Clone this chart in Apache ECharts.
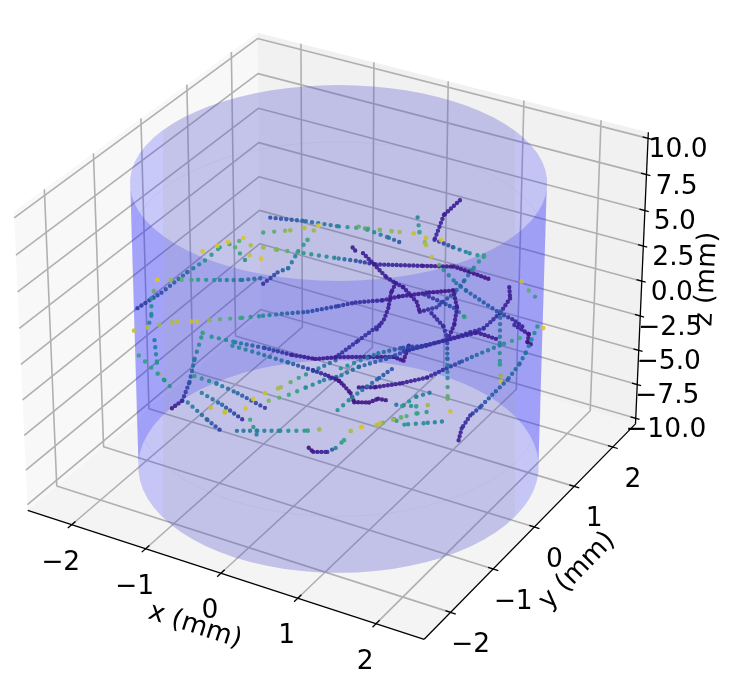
<!DOCTYPE html>
<html>
<head>
<meta charset="utf-8">
<script src="https://cdn.jsdelivr.net/npm/echarts@6/dist/echarts.min.js"></script>
<style>html,body{margin:0;padding:0;background:#fff}#main{width:747px;height:690px}</style>
</head>
<body>
<div id="main"></div>
<script>
// tick values (mm)
var xTicks = [-2, -1, 0, 1, 2];
var yTicks = [-2, -1, 0, 1, 2];
var zTicks = [-10, -7.5, -5, -2.5, 0, 2.5, 5, 7.5, 10];
var xTickLabels = ['\u22122', '\u22121', '0', '1', '2'];
var yTickLabels = ['\u22122', '\u22121', '0', '1', '2'];
var zTickLabels = ['\u221210.0', '\u22127.5', '\u22125.0', '\u22122.5', '0.0', '2.5', '5.0', '7.5', '10.0'];

// axis limits and cylinder size (mm)
var xyLimit = 2.604;
var zLimit = 10.417;
var cylRadius = 2.34;
var cylHalfHeight = 10;

// tracks: x, y, z (mm), speed (0..1)
var tracks = [
  [[-2.00,-1.06,0.8,.15],[-1.81,-.84,1.6,.2],[-1.61,-.59,2.7,.33],[-1.47,-.43,3.3,.5],[-1.36,-.28,4.0,.6],[-1.16,-.12,4.4,.7]],
  [[-.94,.15,5.6,.2],[-.58,.34,5.4,.3],[-.24,.51,5.1,.4],[.06,.66,5.0,.7],[.38,.83,4.8,.8],[.62,.95,4.7,.95]],
  [[-.04,.62,5.1,.7],[.13,.68,4.8,.45],[.29,.74,4.5,.35],[.45,.79,4.2,.2]],
  [[-.97,.04,4.8,.62],[-.71,.21,4.9,.78],[-.39,.43,5.2,.98]],
  [[-.82,-.22,2.1,.12],[-.71,-.08,2.7,.2],[-.62,.01,2.9,.35],[-.57,.15,3.8,.45],[-.51,.26,4.4,.6],[-.47,.37,5.0,.85]],
  [[-1.52,-.40,3.8,.95],[-1.29,-.21,4.3,.95],[-1.15,-.10,4.5,.95]],
  [[-1.21,-.19,4.0,.7],[-1.14,-.20,3.7,.6],[-1.05,-.20,3.2,.45]],
  [[-1.04,-.15,3.6,.9],[-.92,-.10,3.4,.95],[-.77,-.08,2.9,.95]],
  [[-1.06,-.09,4.1,.85],[-.78,.03,3.9,.75],[-.51,.17,3.7,.55],[-.15,.35,3.4,.4],[.03,.43,3.3,.2],[.24,.53,3.1,.1],[.71,.80,3.0,.05],[1.02,.96,3.0,.02],[1.20,1.03,2.7,.02],[1.42,1.11,2.3,.01]],
  [[-1.88,-.81,2.3,.95],[-1.64,-.67,2.3,.7],[-1.48,-.57,2.3,.55],[-1.26,-.45,2.3,.45],[-1.04,-.32,2.3,.35],[-.84,-.19,2.4,.3]],
  [[-1.97,-1.19,-.4,.9],[-1.74,-1.01,-.1,.8],[-1.56,-.90,.1,.85],[-1.37,-.79,.1,.9],[-1.15,-.64,.2,.7],[-.93,-.51,.3,.6],[-.73,-.38,.4,.45],[-.55,-.26,.5,.3],[-.30,-.10,.6,.2],[-.01,.11,.9,.15],[.15,.22,1.1,.12],[.41,.39,1.2,.08],[.56,.50,1.4,.04],[.85,.70,1.6,.03],[1.08,.85,1.7,.02]],
  [[-1.88,-.81,2.3,.95],[-1.89,-.93,1.3,.5],[-1.84,-1.02,.4,.45],[-1.84,-1.07,0,.4]],
  [[.89,1.33,6.5,.05],[.77,1.17,5.7,.06],[.75,.99,4.4,.1],[.96,1.06,4.0,.3],[1.14,1.12,3.7,.45],[1.29,1.19,3.5,.55],[1.38,1.22,3.3,.9]],
  [[.52,1.00,5.6,.4],[.58,.94,4.8,.6],[.68,.92,4.1,.85],[.77,.89,3.5,.95]],
  [[.77,.89,3.5,.9],[.93,.89,2.8,.5],[1.09,.90,2.1,.35],[1.21,.92,1.7,.28],[1.61,1.0,.5,.2],[1.75,1.04,.2,.1],[1.90,1.07,-.3,.05]],
  [[.66,.95,4.5,.9],[.89,1.07,4.3,.95]],
  [[1.29,1.19,3.6,.6],[1.21,1.05,2.8,.4],[1.16,.95,2.2,.3],[1.10,.85,1.6,.25],[.96,.67,.8,.15],[.81,.54,.6,.05]],
  [[-.04,.48,4.0,.05],[0,.48,3.8,.05]],
  [[.08,.51,3.7,.05],[.22,.52,3.1,.05],[.38,.53,2.4,.06],[.49,.55,2.1,.05],[.47,.48,1.6,.04],[.49,.38,.8,.05],[.48,.30,.2,.06],[.43,.20,-.4,.08]],
  [[.49,.55,2.1,.05],[.58,.57,1.9,.05],[.75,.58,1.1,.04],[.80,.55,.7,.03]],
  [[.81,.66,1.5,.1],[1.14,.76,.8,.2],[1.27,.78,.3,.55],[1.36,.79,.1,.85]],
  [[1.08,.85,1.7,.03],[1.17,.78,.8,.06],[1.19,.68,-.1,.05],[1.17,.58,-.8,.06]],
  [[1.63,1.18,1.9,.05],[1.67,1.13,1.3,.05],[1.61,1.0,.5,.1],[1.49,.83,-.3,.12],[1.37,.73,-.5,.12],[1.16,.56,-.9,.1],[.76,.25,-1.5,.15]],
  [[1.74,1.28,2.2,.9],[1.83,1.28,1.7,.7],[1.98,1.29,1.1,.4]],
  [[1.61,1.01,.6,.3],[1.70,.84,-1.2,.4],[1.76,.74,-2.2,.55],[1.82,.66,-3.1,.9],[1.85,.64,-3.4,.95]],
  [[1.79,1.02,-.1,.1],[1.96,1.06,-.6,.02],[1.97,1.01,-1.0,.02],[2.02,1.03,-1.2,.01]],
  [[2.08,1.18,-.3,.95],[2.11,1.09,-1.0,.95]],
  [[2.02,1.15,-.2,.5],[1.98,.95,-1.6,.35],[1.95,.85,-2.2,.3],[1.88,.71,-3.0,.28],[1.77,.55,-3.8,.25],[1.68,.42,-4.5,.2],[1.61,.32,-4.9,.12],[1.56,.21,-5.6,.08],[1.57,.11,-6.3,.05]],
  [[1.88,.99,-.8,.65],[1.70,.84,-1.2,.4],[1.50,.66,-1.7,.3],[1.35,.52,-2.1,.2],[1.24,.42,-2.4,.12],[1.07,.26,-2.9,.08],[.82,.07,-3.2,.05],[.58,-.09,-3.4,.04],[.40,-.20,-3.4,.03]],
  [[.17,-.27,-2.9,.03],[.27,-.26,-3.3,.02],[.36,-.26,-3.7,.01],[.42,-.28,-4.2,.01],[.57,-.20,-4.2,.02],[.65,-.13,-4.0,.02],[.76,-.08,-4.1,.02]],
  [[.93,.61,.5,.08],[1.09,.61,-.2,.1],[1.16,.57,-.8,.15],[1.22,.47,-1.9,.3],[1.28,.37,-2.9,.45],[1.34,.27,-4.0,.7],[1.41,.22,-4.8,.95]],
  [[.11,-.16,-1.8,.05],[.44,.03,-1.8,.05],[.68,.17,-1.8,.03],[.79,.21,-2.0,.02],[.80,.33,-1.1,.04]],
  [[.45,.25,-.1,.12],[.27,.03,-1.0,.12],[.11,-.16,-1.8,.12]],
  [[.17,-.27,-2.9,.4],[.37,-.08,-2.3,.3],[.61,.12,-1.9,.25],[.82,.29,-1.4,.15],[1.16,.56,-.9,.1],[1.44,.77,-.5,.05],[1.68,.86,-.9,.04]],
  [[.19,-.19,-2.4,.5],[.52,.10,-1.6,.35],[.75,.27,-1.3,.2],[1.0,.44,-1.2,.12]],
  [[.28,-.42,-4.6,.5],[.39,-.27,-3.9,.4],[.60,-.02,-2.9,.25],[.73,.14,-2.3,.2]],
  [[.85,-.06,-4.3,.35],[1.05,.05,-4.4,.55],[1.22,.16,-4.3,.95]],
  [[1.35,.12,-5.2,.4],[1.17,.01,-5.3,.45],[.98,-.10,-5.4,.5],[.86,-.14,-5.1,.6],[.71,-.27,-5.4,.85],[.56,-.37,-5.5,.95],[.47,-.44,-5.6,.95]],
  [[1.14,.20,-3.7,.35],[1.02,.10,-3.9,.45],[.86,-.08,-4.6,.6]],
  [[1.17,.08,-4.7,.55],[1.07,.02,-4.8,.6],[.93,-.09,-5.0,.7],[.86,-.15,-5.1,.8],[.73,-.25,-5.3,.9]],
  [[.10,-.77,-6.6,.02],[.16,-.77,-6.8,.02],[.30,-.69,-6.8,.1],[.37,-.62,-6.6,.4],[.43,-.53,-6.2,.6],[.47,-.44,-5.7,.85]],
  [[-1.74,-1.12,-.9,.35],[-1.65,-1.22,-2.1,.5],[-1.58,-1.28,-2.9,.9]],
  [[-1.37,-1.36,-4.5,.02],[-1.29,-1.26,-4.1,.1],[-1.27,-1.13,-3.1,.2],[-1.29,-.98,-1.9,.35],[-1.28,-.81,-.5,.55],[-1.25,-.74,-.1,.9]],
  [[-1.24,-1.07,-2.8,.55],[-1.0,-.98,-3.2,.4],[-.76,-.91,-3.7,.3],[-.45,-.82,-4.5,.15]],
  [[-1.12,-1.11,-3.7,.4],[-.88,-1.06,-4.3,.3],[-.64,-1.01,-5.1,.1]],
  [[-1.23,-1.24,-4.2,.4],[-.98,-1.22,-5.1,.3],[-.82,-1.19,-5.7,.15]],
  [[-1.85,-1.29,-1.7,.6],[-1.52,-1.27,-3.0,.5],[-1.40,-1.26,-3.6,.45]],
  [[-.64,-.94,-4.5,.95],[-.56,-.97,-5.1,.65],[-.44,-1.01,-6.0,.35]],
  [[-.99,-1.13,-4.5,.9],[-.83,-1.08,-4.7,.9],[-.75,-1.06,-4.9,.85]],
  [[-.66,-1.10,-5.7,.35],[-.46,-.98,-5.7,.4],[-.23,-.85,-5.7,.45],[.04,-.69,-5.7,.55],[.21,-.58,-5.6,.95]],
  [[-.59,-.85,-4.0,.95],[-.49,-.75,-3.7,.9],[-.35,-.63,-3.4,.8],[-.20,-.48,-2.9,.6],[-.03,-.32,-2.4,.4],[.14,-.15,-1.9,.3]],
  [[-.43,-.77,-4.1,.75],[-.25,-.62,-3.8,.65],[-.10,-.49,-3.4,.5],[.06,-.35,-3.0,.4],[.21,-.23,-2.8,.3]],
  [[-1.18,-.78,-.7,.5],[-.93,-.67,-1.0,.4],[-.62,-.53,-1.3,.2],[-.33,-.40,-1.7,.07],[-.09,-.29,-1.9,.03],[.14,-.15,-1.8,.05]],
  [[-.95,-.70,-1.2,.45],[-.67,-.59,-1.6,.35],[-.35,-.46,-2.1,.3],[-.08,-.36,-2.5,.15],[.09,-.30,-2.8,.05],[.23,-.26,-3.1,.02]]
];
var trackShift = [-.03, 0, -.12];

// speed colours (stops of the colour bar)
var speedStops = [
  [0, '#3f0f82'], [.07, '#3a2098'], [.15, '#2f3aa5'], [.22, '#2a55aa'], [.4, '#267f9c'], [.5, '#22938f'],
  [.65, '#3cab78'], [.8, '#a0b84a'], [.95, '#dcc428'], [1, '#e8cf1a']
];

function hexRgb(h) {
  return [parseInt(h.substr(1, 2), 16), parseInt(h.substr(3, 2), 16), parseInt(h.substr(5, 2), 16)];
}
function speedColor(c) {
  for (var i = 1; i < speedStops.length; i++) {
    if (c <= speedStops[i][0]) {
      var a = speedStops[i - 1], b = speedStops[i];
      var t = (c - a[0]) / (b[0] - a[0]);
      var ca = hexRgb(a[1]), cb = hexRgb(b[1]);
      return 'rgb(' + Math.round(ca[0] + (cb[0] - ca[0]) * t) + ',' + Math.round(ca[1] + (cb[1] - ca[1]) * t) + ',' + Math.round(ca[2] + (cb[2] - ca[2]) * t) + ')';
    }
  }
  return speedStops[speedStops.length - 1][1];
}

// matplotlib's view: elev 30, azim -60, focal distance 10, box 4:4:3
var boxX = 1.143, boxZ = 0.857;
function project(x, y, z) {
  var bx = x / xyLimit * boxX / 2, by = y / xyLimit * boxX / 2, bz = z / zLimit * boxZ / 2;
  var h = .866 * bx + .5 * by;
  var v = -.25 * bx + .433 * by + .866 * bz;
  var d = .433 * bx - .75 * by + .5 * bz;
  return [h / (10 - d), v / (10 - d)];
}

// view plane to window: the hidden axes span the whole window
var planeX0 = 337, planeY0 = 322, planeKx = 3975, planeKy = 3975;
var W = 747, H = 690;

var L = xyLimit, Z = zLimit;
var series = [];

function addPolygon(pts, fill, zlevel) {
  series.push({
    type: 'custom', coordinateSystem: 'cartesian2d', silent: true, clip: false, z: zlevel,
    data: [pts[0]],
    renderItem: function (params, api) {
      return {
        type: 'polygon',
        shape: { points: pts.map(function (p) { return api.coord(p); }) },
        style: { fill: fill }
      };
    }
  });
}
function addLine(pts, color, width, zlevel) {
  series.push({
    type: 'line', coordinateSystem: 'cartesian2d', silent: true, symbol: 'none', clip: false, z: zlevel,
    animation: false,
    data: pts,
    lineStyle: { color: color, width: width, cap: 'butt' }
  });
}
function line3(a, b, color, width, zlevel) {
  addLine([project(a[0], a[1], a[2]), project(b[0], b[1], b[2])], color, width, zlevel);
}
function poly3(pts) {
  return pts.map(function (p) { return project(p[0], p[1], p[2]); });
}

// panes
addPolygon(poly3([[-L, -L, -Z], [-L, L, -Z], [-L, L, Z], [-L, -L, Z]]), 'rgb(248,248,248)', 1);
addPolygon(poly3([[-L, L, -Z], [L, L, -Z], [L, L, Z], [-L, L, Z]]), 'rgb(241,241,241)', 1);
addPolygon(poly3([[-L, -L, -Z], [L, -L, -Z], [L, L, -Z], [-L, L, -Z]]), 'rgb(244,244,244)', 1);

// grid
var gridColor = '#b0b0b0', gridW = 1.6;
zTicks.forEach(function (t) {
  addLine(poly3([[-L, -L, t], [-L, L, t], [L, L, t]]), gridColor, gridW, 2);
});
xTicks.forEach(function (t) {
  addLine(poly3([[t, -L, -Z], [t, L, -Z], [t, L, Z]]), gridColor, gridW, 2);
});
yTicks.forEach(function (t) {
  addLine(poly3([[L, t, -Z], [-L, t, -Z], [-L, t, Z]]), gridColor, gridW, 2);
});

// axis lines and ticks
var axisColor = '#000', axisW = 1.3;
line3([-L, -L, -Z], [L, -L, -Z], axisColor, axisW, 3);
line3([L, -L, -Z], [L, L, -Z], axisColor, axisW, 3);
line3([L, L, -Z], [L, L, Z], axisColor, axisW, 3);
xTicks.forEach(function (t) { line3([t, -L - .08, -Z], [t, -L + .08, -Z], axisColor, axisW, 3); });
yTicks.forEach(function (t) { line3([L - .065, t, -Z], [L + .065, t, -Z], axisColor, axisW, 3); });
zTicks.forEach(function (t) { line3([L - .07, L, t], [L + .05, L, t], axisColor, axisW, 3); });

// cylinder walls
var cylCx = .02, cylCy = 0, cylCz = -.05;
function arc(from, to, z, r) {
  var out = [];
  for (var a = from; a <= to + .01; a += 5) {
    var rad = a * Math.PI / 180;
    out.push(project(cylCx + r * Math.cos(rad), cylCy + r * Math.sin(rad), cylCz + z));
  }
  return out;
}
var wallFill = 'rgba(30,30,255,0.22)';
addPolygon(arc(30, 210, cylHalfHeight, cylRadius).concat(arc(30, 210, -cylHalfHeight, cylRadius).reverse()), wallFill, 4);
addPolygon(arc(-150, 30, cylHalfHeight, cylRadius).concat(arc(-150, 30, -cylHalfHeight, cylRadius).reverse()), wallFill, 4);
addLine(arc(30, 210, 6, cylRadius), 'rgba(110,110,200,0.09)', 1, 4);
addLine(arc(-150, 30, -6, cylRadius), 'rgba(110,110,200,0.09)', 1, 4);

// greyer middle strip of the cylinder
var stripMin = (163 - planeX0) / planeKx, stripMax = (515 - planeX0) / planeKx;
addPolygon(arc(30, 210, cylHalfHeight, cylRadius).concat(arc(-150, 30, -cylHalfHeight, cylRadius)).map(function (p) {
  return [Math.min(stripMax, Math.max(stripMin, p[0])), p[1]];
}), 'rgba(175,175,130,0.12)', 4);

// tracks, one data row per segment between read points
var segments = [];
tracks.forEach(function (tr) {
  for (var i = 1; i < tr.length; i++) {
    var a = project(tr[i - 1][0] + trackShift[0], tr[i - 1][1] + trackShift[1], tr[i - 1][2] + trackShift[2]);
    var b = project(tr[i][0] + trackShift[0], tr[i][1] + trackShift[1], tr[i][2] + trackShift[2]);
    segments.push([a[0], a[1], b[0], b[1], tr[i - 1][3], tr[i][3]]);
  }
});
series.push({
  type: 'custom', coordinateSystem: 'cartesian2d', silent: true, clip: false, z: 6,
  encode: { x: [0, 2], y: [1, 3] },
  data: segments,
  renderItem: function (params, api) {
    var p1 = api.coord([api.value(0), api.value(1)]);
    var p2 = api.coord([api.value(2), api.value(3)]);
    var c1 = api.value(4), c2 = api.value(5), c = (c1 + c2) / 2;
    var gap = 3.8 + 4 * c + 9 * c * c;
    return {
      type: 'line',
      shape: { x1: p1[0], y1: p1[1], x2: p2[0], y2: p2[1] },
      style: {
        stroke: new echarts.graphic.LinearGradient(p1[0], p1[1], p2[0], p2[1], [
          { offset: 0, color: speedColor(c1) }, { offset: 1, color: speedColor(c2) }
        ], true),
        lineWidth: c > .7 ? 4.8 : 4.4, lineCap: 'round', lineDash: [0, gap], opacity: .9
      }
    };
  }
});

// text: tick labels and axis titles
var fontCss = '26.5px "DejaVu Sans"';
var labelRows = [];
xTicks.forEach(function (t, i) {
  var p = project(t, -L, -Z);
  labelRows.push([p[0], p[1], xTickLabels[i], -11, 38, 0]);
});
yTicks.forEach(function (t, i) {
  var p = project(L, t, -Z);
  labelRows.push([p[0], p[1], yTickLabels[i], 20, 33, 0]);
});
zTicks.forEach(function (t, i) {
  var p = project(L, L, t);
  labelRows.push([p[0], p[1], zTickLabels[i], 30, 12, 0]);
});
var xTitle = project(0, -L, -Z), yTitle = project(L, 0, -Z), zTitle = project(L, L, 0);
labelRows.push([xTitle[0], xTitle[1], 'x (mm)', -26, 53, -.31]);
labelRows.push([yTitle[0], yTitle[1], 'y (mm)', 43, 44, .8]);
labelRows.push([zTitle[0], zTitle[1], 'z (mm)', 65, -2, 1.52]);
series.push({
  type: 'custom', coordinateSystem: 'cartesian2d', silent: true, clip: false, z: 7,
  encode: { x: 0, y: 1 },
  data: labelRows,
  renderItem: function (params, api) {
    var row = labelRows[params.dataIndex];
    var p = api.coord([row[0], row[1]]);
    return {
      type: 'text', x: p[0] + row[3], y: p[1] + row[4], rotation: row[5],
      style: { text: row[2], font: fontCss, fill: '#000', align: 'center', verticalAlign: 'middle' }
    };
  }
});

var chart = echarts.init(document.getElementById('main'), null, { renderer: 'canvas' });
chart.setOption({
  animation: false,
  backgroundColor: '#fff',
  grid: { left: 0, right: 0, top: 0, bottom: 0 },
  xAxis: { type: 'value', show: false, scale: true, min: -planeX0 / planeKx, max: (W - planeX0) / planeKx },
  yAxis: { type: 'value', show: false, scale: true, min: (planeY0 - H) / planeKy, max: planeY0 / planeKy },
  tooltip: { show: false },
  series: series
});
</script>
</body>
</html>
